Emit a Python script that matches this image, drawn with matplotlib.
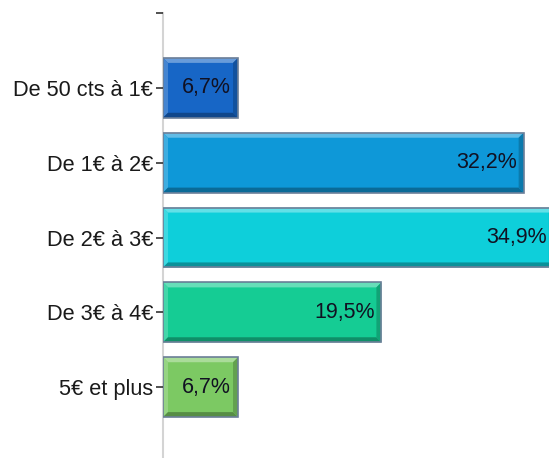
import matplotlib
matplotlib.use("Agg")
import matplotlib.pyplot as plt
from matplotlib.patches import Polygon, Rectangle
from matplotlib.colors import to_rgb
import numpy as np

# Répartition des prix
categories = ["De 50 cts à 1€", "De 1€ à 2€", "De 2€ à 3€", "De 3€ à 4€", "5€ et plus"]
values = [6.7, 32.2, 34.9, 19.5, 6.7]
bar_colors = ["#1766c6", "#0e98d8", "#0ecfda", "#15cc94", "#7cc963"]

W, H, DPI = 549, 458, 100
BAR_H = 0.8
BEVEL_PX = 5


def mix(c, other, t):
    c = np.array(to_rgb(c))
    o = np.array(to_rgb(other))
    return tuple(c * (1 - t) + o * t)


plt.rcParams["font.family"] = ["Liberation Sans", "DejaVu Sans"]

fig = plt.figure(figsize=(W / DPI, H / DPI), dpi=DPI)
ax_left, ax_w = 163 / W, 392 / W
ax_bottom, ax_h = -4 / H, 449 / H
ax = fig.add_axes([ax_left, ax_bottom, ax_w, ax_h])

xmax = 35.0
ax.set_xlim(0, xmax)
ax.set_ylim(len(categories), -1)

# épaisseur du biseau en unités de données
px_x = xmax / (ax_w * W)
bx = BEVEL_PX * px_x
by = BEVEL_PX / (ax_h * H) * (len(categories) + 1)

for i, (v, col) in enumerate(zip(values, bar_colors)):
    y0, y1 = i - BAR_H / 2, i + BAR_H / 2
    ax.add_patch(Rectangle((0, y0), v, BAR_H, facecolor=col, edgecolor="none", zorder=2))
    light = mix(col, "white", 0.35)
    dark = mix(col, "black", 0.3)
    # haut + gauche clairs
    ax.add_patch(Polygon([(0, y0), (v, y0), (v - bx, y0 + by), (bx, y0 + by)],
                         closed=True, facecolor=light, edgecolor="none", zorder=3))
    ax.add_patch(Polygon([(0, y0), (bx, y0 + by), (bx, y1 - by), (0, y1)],
                         closed=True, facecolor=mix(col, "white", 0.2), edgecolor="none", zorder=3))
    # bas + droite sombres
    ax.add_patch(Polygon([(0, y1), (bx, y1 - by), (v - bx, y1 - by), (v, y1)],
                         closed=True, facecolor=dark, edgecolor="none", zorder=3))
    ax.add_patch(Polygon([(v, y0), (v, y1), (v - bx, y1 - by), (v - bx, y0 + by)],
                         closed=True, facecolor=mix(col, "black", 0.2), edgecolor="none", zorder=3))
    ax.add_patch(Rectangle((0, y0), v, BAR_H, facecolor="none", edgecolor="#6c7f98",
                           linewidth=1.2, zorder=4))
    label = f"{v:.1f}".replace(".", ",") + "%"
    ax.text(v - 7 * px_x, i, label, ha="right", va="center", fontsize=15.5,
            color="#111122", zorder=5)

ax.set_yticks(range(len(categories)))
ax.set_yticklabels(categories, fontsize=15.7, color="#1a1a1a")
ax.set_yticks([-1], minor=True)
ax.tick_params(axis="y", which="both", length=5, width=1.2, color="#333333", pad=2)
ax.set_xticks([])

for s in ["top", "right", "bottom"]:
    ax.spines[s].set_visible(False)
ax.spines["left"].set_color("#d4d4d4")
ax.spines["left"].set_linewidth(1.5)
ax.spines["left"].set_zorder(1)

fig.savefig("out.png", dpi=DPI)
